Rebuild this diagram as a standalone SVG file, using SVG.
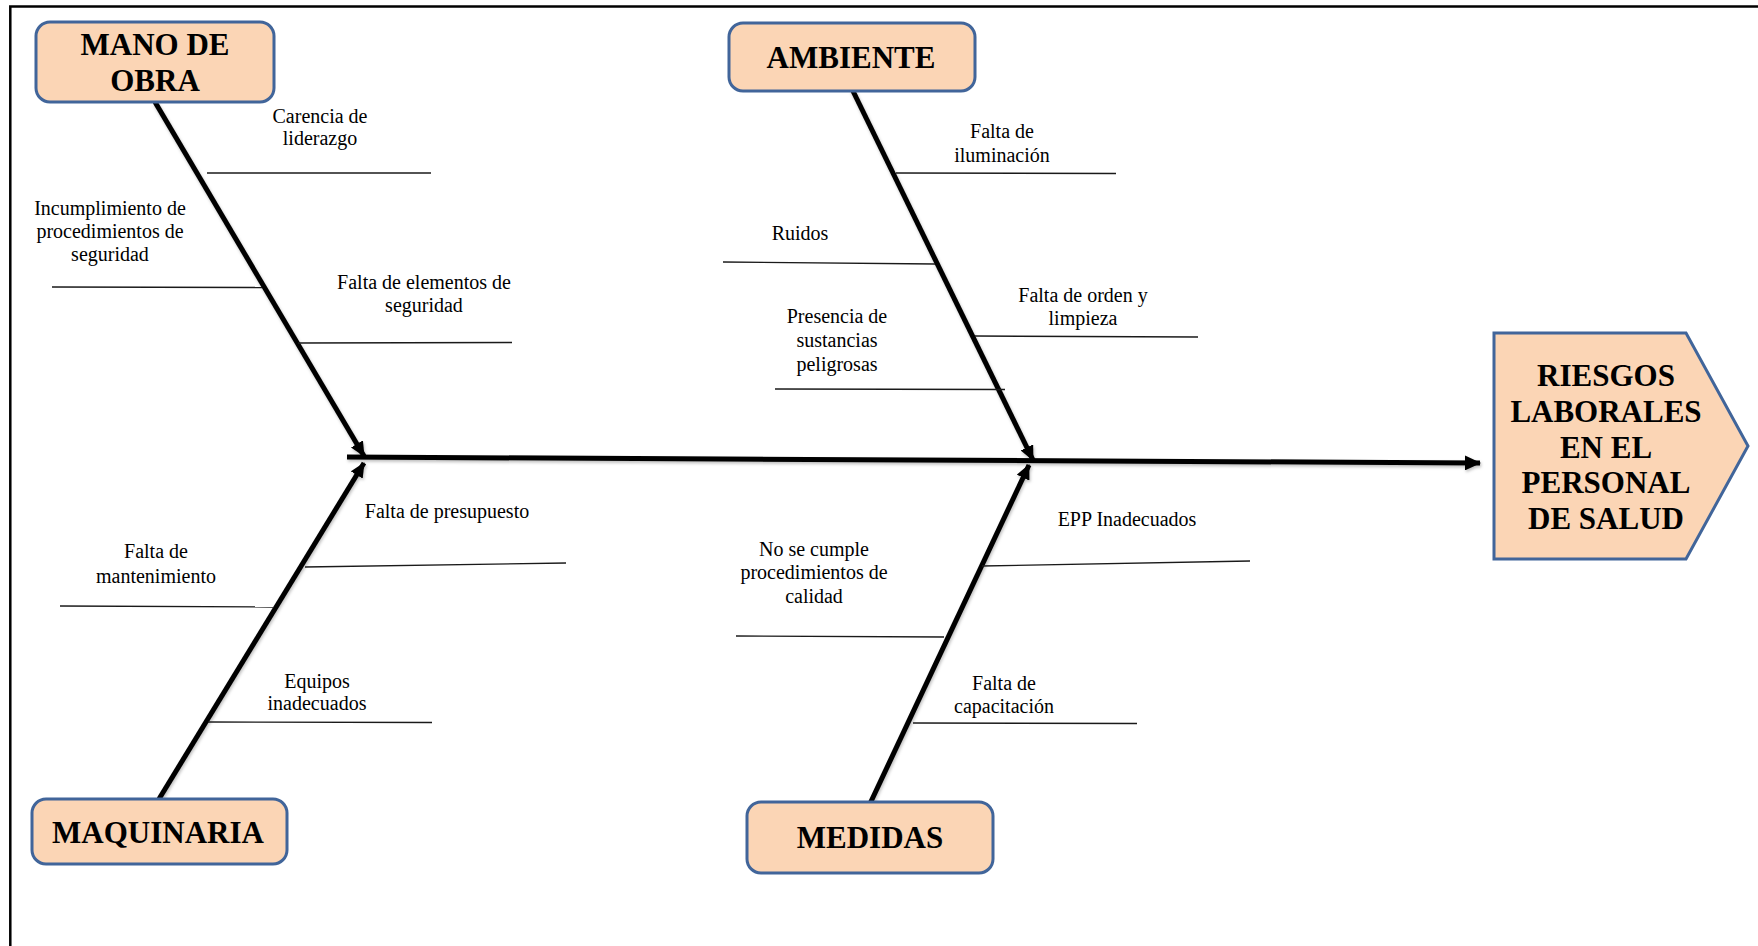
<svg xmlns="http://www.w3.org/2000/svg" width="1758" height="946" viewBox="0 0 1758 946">
<style>
.box{fill:#FBD5B5;stroke:#41659A;stroke-width:3}
.hd{font-family:"Liberation Serif","Times New Roman",serif;font-weight:bold;font-size:31px;fill:#000;text-anchor:middle}
.lb{font-family:"Liberation Serif","Times New Roman",serif;font-size:20px;fill:#000;text-anchor:middle}
.bone{stroke:#000;stroke-width:5;fill:none;stroke-linecap:butt}
.rib{stroke:#1a1a1a;stroke-width:1.4;fill:none}
.frame{stroke:#000;stroke-width:2.5;fill:none}
</style>
<defs>
<filter id="sh" x="-5%" y="-5%" width="110%" height="110%">
<feDropShadow dx="1" dy="2" stdDeviation="1.5" flood-color="#000" flood-opacity="0.25"/>
</filter>
<marker id="ah" viewBox="0 0 16 15" refX="15" refY="7.5" markerWidth="16" markerHeight="15" markerUnits="userSpaceOnUse" orient="auto">
<path d="M0,0 L16,7.5 L0,15 Z" fill="#000"/>
</marker>
<marker id="ahs" viewBox="0 0 15 14" refX="14" refY="7" markerWidth="15" markerHeight="14" markerUnits="userSpaceOnUse" orient="auto">
<path d="M0,0 L15,7 L0,14 Z" fill="#000"/>
</marker>
</defs>
<rect width="1758" height="946" fill="#fff"/>
<path class="frame" d="M10.3,946 L10.3,6.5 L1758,6.5"/>

<g id="connectors">
<g filter="url(#sh)">
<line class="bone" x1="347" y1="457" x2="1480" y2="463" marker-end="url(#ah)"/>
<line class="bone" x1="155" y1="102" x2="364" y2="456" marker-end="url(#ahs)"/>
<line class="bone" x1="852" y1="89" x2="1033" y2="460" marker-end="url(#ahs)"/>
<line class="bone" x1="159" y1="799" x2="364" y2="463" marker-end="url(#ahs)"/>
<line class="bone" x1="867.5" y1="809" x2="1029" y2="465" marker-end="url(#ahs)"/>
</g>
<line class="rib" x1="207" y1="173" x2="431" y2="173"/>
<line class="rib" x1="52" y1="287" x2="262" y2="287.5"/>
<line class="rib" x1="298" y1="343" x2="512" y2="342.5"/>
<line class="rib" x1="896" y1="173" x2="1116" y2="173.5"/>
<line class="rib" x1="723" y1="262" x2="935" y2="264"/>
<line class="rib" x1="975" y1="336" x2="1198" y2="337"/>
<line class="rib" x1="775" y1="389" x2="1005" y2="389.5"/>
<line class="rib" x1="305" y1="567" x2="566" y2="563"/>
<line class="rib" x1="60" y1="606" x2="274" y2="607"/>
<line class="rib" x1="208" y1="722" x2="432" y2="722.5"/>
<line class="rib" x1="982" y1="566" x2="1250" y2="561"/>
<line class="rib" x1="736" y1="636" x2="944" y2="637"/>
<line class="rib" x1="913" y1="723" x2="1137" y2="723.5"/>
</g>

<g id="mano-de-obra">
<rect class="box" x="36" y="22" width="238" height="80" rx="14"/>
<text class="hd" x="155" y="55">MANO DE</text>
<text class="hd" x="155" y="91">OBRA</text>
</g>
<g id="ambiente">
<rect class="box" x="729" y="23" width="246" height="68" rx="14"/>
<text class="hd" x="851" y="68">AMBIENTE</text>
</g>
<g id="maquinaria">
<rect class="box" x="32" y="799" width="255" height="65" rx="14"/>
<text class="hd" x="158" y="843">MAQUINARIA</text>
</g>
<g id="medidas">
<rect class="box" x="747" y="802" width="246" height="71" rx="14"/>
<text class="hd" x="870" y="848">MEDIDAS</text>
</g>
<g id="riesgos">
<path class="box" d="M1494,333 L1686,333 L1748,446 L1686,559 L1494,559 Z"/>
<text class="hd" x="1606" y="386">RIESGOS</text>
<text class="hd" x="1606" y="422">LABORALES</text>
<text class="hd" x="1606" y="458">EN EL</text>
<text class="hd" x="1606" y="493">PERSONAL</text>
<text class="hd" x="1606" y="529">DE SALUD</text>
</g>

<g id="c-carencia"><text class="lb" x="320" y="123">Carencia de</text><text class="lb" x="320" y="145">liderazgo</text></g>
<g id="c-incumplimiento"><text class="lb" x="110" y="215">Incumplimiento de</text><text class="lb" x="110" y="238">procedimientos de</text><text class="lb" x="110" y="261">seguridad</text></g>
<g id="c-elementos"><text class="lb" x="424" y="289">Falta de elementos de</text><text class="lb" x="424" y="312">seguridad</text></g>
<g id="c-iluminacion"><text class="lb" x="1002" y="138">Falta de</text><text class="lb" x="1002" y="162">iluminación</text></g>
<g id="c-ruidos"><text class="lb" x="800" y="240">Ruidos</text></g>
<g id="c-orden"><text class="lb" x="1083" y="302">Falta de orden y</text><text class="lb" x="1083" y="325">limpieza</text></g>
<g id="c-sustancias"><text class="lb" x="837" y="323">Presencia de</text><text class="lb" x="837" y="347">sustancias</text><text class="lb" x="837" y="371">peligrosas</text></g>
<g id="c-presupuesto"><text class="lb" x="447" y="518">Falta de presupuesto</text></g>
<g id="c-mantenimiento"><text class="lb" x="156" y="558">Falta de</text><text class="lb" x="156" y="583">mantenimiento</text></g>
<g id="c-equipos"><text class="lb" x="317" y="688">Equipos</text><text class="lb" x="317" y="710">inadecuados</text></g>
<g id="c-epp"><text class="lb" x="1127" y="526">EPP Inadecuados</text></g>
<g id="c-calidad"><text class="lb" x="814" y="556">No se cumple</text><text class="lb" x="814" y="579">procedimientos de</text><text class="lb" x="814" y="603">calidad</text></g>
<g id="c-capacitacion"><text class="lb" x="1004" y="690">Falta de</text><text class="lb" x="1004" y="713">capacitación</text></g>
</svg>
